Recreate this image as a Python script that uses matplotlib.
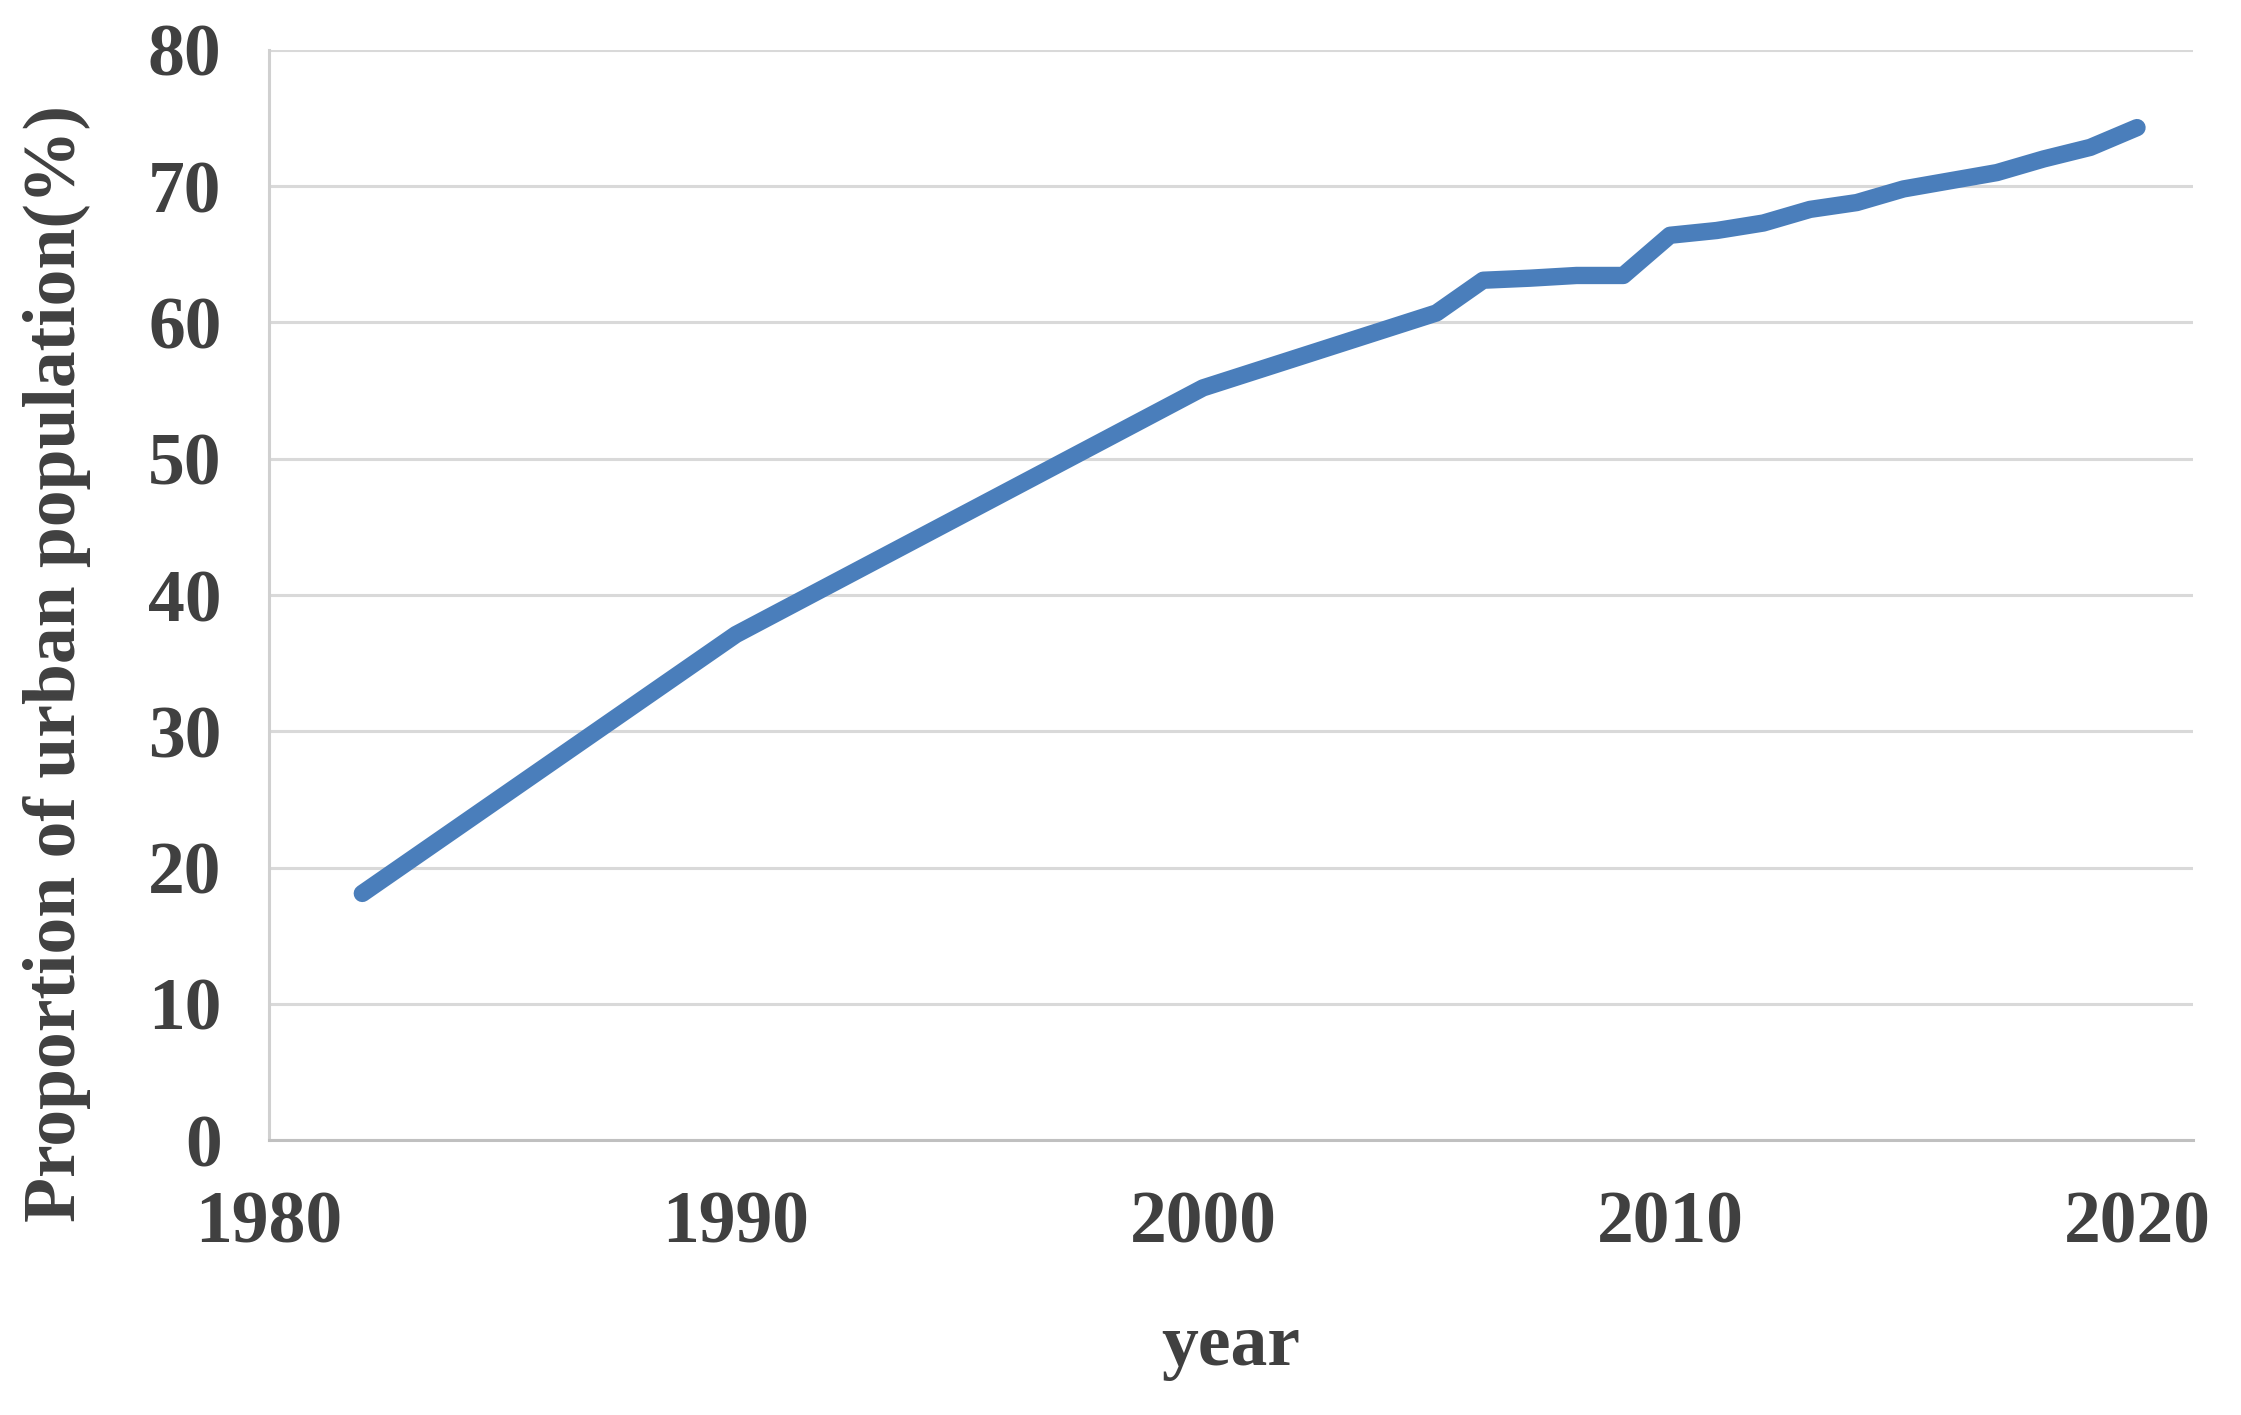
import matplotlib
matplotlib.use("Agg")
import matplotlib.pyplot as plt

years = [1982, 1990, 2000, 2005, 2006, 2007, 2008, 2009, 2010, 2011, 2012,
         2013, 2014, 2015, 2016, 2017, 2018, 2019, 2020]
urban_share = [18.1, 37.1, 55.2, 60.7, 63.1, 63.25, 63.45, 63.45, 66.4, 66.75, 67.3,
               68.3, 68.8, 69.8, 70.4, 71.0, 72.0, 72.85, 74.3]
x_ticks = [1980, 1990, 2000, 2010, 2020]
y_ticks = [0, 10, 20, 30, 40, 50, 60, 70, 80]

text_color = "#404040"
plt.rcParams['font.family'] = ['Liberation Serif', 'DejaVu Serif']
plt.rcParams['font.weight'] = 'bold'

fig = plt.figure(figsize=(22.41, 14.15), dpi=100)
ax = fig.add_axes([0.120, 0.1943, 0.8586, 0.7704])

ax.plot(years, urban_share, color="#4a7ebb", linewidth=12.5,
        solid_capstyle="round", solid_joinstyle="round", zorder=3)

ax.set_xlim(1980, 2021.2)
ax.set_ylim(0, 80)
ax.set_xticks(x_ticks)
ax.set_yticks(y_ticks)
ax.grid(axis="y", color="#d9d9d9", linewidth=2.2, zorder=0)
ax.grid(axis="x", visible=False)
for s in ["top", "right"]:
    ax.spines[s].set_visible(False)
ax.spines["left"].set_color("#d0d0d0")
ax.spines["left"].set_linewidth(2.2)
ax.spines["bottom"].set_color("#c0c0c0")
ax.spines["bottom"].set_linewidth(2.2)

ax.tick_params(axis="both", length=0, labelsize=53, labelcolor=text_color)
ax.tick_params(axis="y", pad=34)
ax.tick_params(axis="x", pad=36)
for lab in ax.get_xticklabels() + ax.get_yticklabels():
    lab.set_fontweight("bold")

ax.set_ylabel("Proportion of urban population(%)", fontsize=53,
              fontweight="bold", color=text_color, va="center")
ax.yaxis.set_label_coords(-0.110, 0.437)
ax.set_xlabel("year", fontsize=53, fontweight="bold", color=text_color,
              va="center")
ax.xaxis.set_label_coords(0.5, -0.19)

fig.savefig("out.png", dpi=100, facecolor="white")
